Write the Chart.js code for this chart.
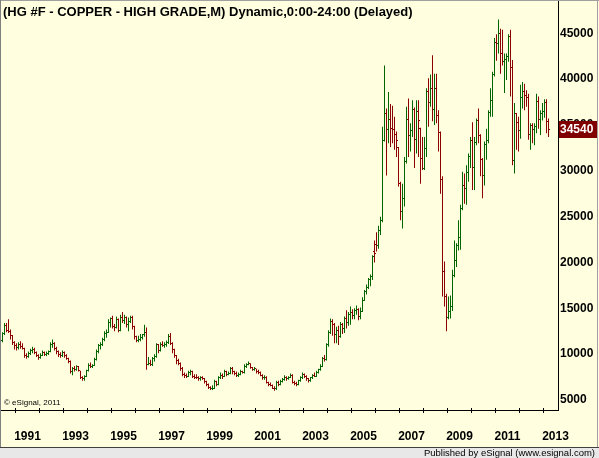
<!DOCTYPE html>
<html>
<head>
<meta charset="utf-8">
<script src="https://cdn.jsdelivr.net/npm/chart.js@4.4.1/dist/chart.umd.min.js"></script>
<style>
  html, body { margin: 0; padding: 0; background: #ffffe0; }
  canvas { display: block; }
</style>
</head>
<body>
<canvas id="chart" width="599" height="458"></canvas>
<script>
// monthly bars, the first one is June 1990 (month 5, 0-based)
const firstYear = 1990;
const firstMonth = 5;

const opens = [
  11500,12200,13100,12600,12500,12000,11300,
  10900,10700,11000,10800,10600,9800,9700,10100,10400,10500,10200,9900,
  9600,9900,10200,10000,10100,10300,11000,11200,10600,10300,10000,9800,
  10200,9800,9500,9200,8100,8400,8300,8600,8200,7400,7300,7600,
  8200,8800,8700,8800,9400,10300,10900,11100,11600,12300,12400,13500,
  13900,13000,12900,13800,12600,14000,13700,14000,13200,13600,14000,13000,
  11900,11500,11600,11800,12100,12400,8900,9000,8900,9500,9700,11000,
  10400,11000,10900,11100,11300,11900,11200,10500,9800,9300,9000,8400,
  7800,7700,7600,8000,8100,7600,7500,7400,7300,7500,7300,7000,
  6700,6400,6200,6300,7000,6700,7500,7700,7600,8100,7800,7900,
  8400,8100,7900,7700,7800,8100,8000,8700,8900,9000,8500,8300,
  8400,8100,8000,7700,7400,7500,6900,6700,6600,6300,6200,6900,
  6700,7000,7200,7500,7300,7500,7700,6900,6800,6700,7100,7400,
  7800,7600,7300,7100,7400,7700,7600,8000,8300,8700,9500,9400,
  11000,12400,13600,13200,12100,12600,11900,13200,12800,13900,13400,14300,
  14500,14200,14800,14900,14100,14700,15900,16800,17300,18100,18500,21200,
  22000,21800,23500,24600,33300,36200,34500,35600,34600,34500,34000,32500,
  28600,25600,27000,31000,35600,33800,34400,36700,33400,36500,34600,31300,
  30300,32400,38600,37500,39000,36700,39000,36000,34200,29000,19000,16300,
  14000,14600,15200,18600,20200,21900,22700,25900,28400,28100,29800,31600,
  33300,30400,33100,35500,33800,31200,29500,32900,33300,36400,37700,40500,
  44000,43900,45000,42800,41900,42100,42500,44700,41300,31100,36300,35300,
  34400,38000,38700,38200,38000,34000,34900,34500,34800,37600,35600,36300,
  36500,37400,35400
];
const highs = [
  12400,13400,13400,13800,12700,12100,11400,
  11200,11300,11400,11200,10700,10100,10300,10600,10800,10700,10300,10000,
  10100,10400,10300,10300,10400,11300,11600,11300,10800,10400,10200,10400,
  10300,10000,9600,9300,8600,8700,8800,8700,8200,7600,7700,8300,
  9000,9100,8900,9600,10500,11100,11300,11800,12500,12700,13800,14000,
  14200,13300,14100,13900,14300,14600,14300,14100,14000,14200,14200,13100,
  12000,12000,12200,12200,13200,12900,9700,9400,9700,10000,11200,11100,
  11300,11400,11300,11500,12200,12300,11300,10600,9900,9500,9100,8600,
  8000,7900,8200,8300,8200,7800,7800,7600,7600,7600,7400,7100,
  6800,6500,6600,7200,7100,7600,8000,7900,8300,8200,8100,8600,
  8600,8200,8100,8000,8300,8200,8900,9000,9200,9000,8600,8600,
  8400,8300,8100,7800,7700,7600,7000,6900,6700,6500,7100,7100,
  7200,7400,7700,7600,7600,7900,7800,7100,7000,7200,7600,8000,
  7900,7700,7400,7500,7800,8000,8200,8400,8900,9700,9900,11200,
  12600,13900,13800,13400,13000,13100,13500,13400,14100,14800,14600,15200,
  14900,15000,15300,15000,15100,16200,17000,17600,18300,18700,20800,22400,
  23300,24000,25000,34800,41500,36800,38600,37300,37100,35900,34300,32600,
  28800,28600,31500,37000,37900,35200,37700,36900,37700,37700,34700,33700,
  33700,39000,40100,40500,42600,40600,40600,36600,34300,29400,20100,16600,
  16300,16400,19200,22400,22100,24600,26300,29900,29700,30600,31900,33700,
  35300,33700,35700,36800,34000,31400,33200,34600,36600,39000,40800,44500,
  44900,46500,45500,45400,42800,42800,44900,45400,42100,37400,36300,35900,
  39400,39700,39500,38800,38400,35200,35200,35200,38400,38100,36600,37400,
  37800,37800,35700
];
const lows = [
  11300,12100,12400,12300,11600,11000,10500,
  10400,10500,10600,10500,9600,9500,9600,9900,10100,10000,9700,9400,
  9500,9800,9800,9800,9900,10200,10700,10400,10000,9700,9600,9700,
  9600,9400,9000,7900,7700,8100,8200,8100,7300,7100,7100,7500,
  8100,8500,8500,8700,9300,10100,10500,10900,11400,11800,12300,12900,
  12800,12500,12800,12400,12500,13400,13300,12900,12500,13400,12700,11600,
  11300,11300,11400,11600,11900,8300,8800,8700,8700,9200,9600,10100,
  10300,10800,10700,10800,11100,11000,10100,9600,8900,8800,8200,7600,
  7400,7400,7500,7700,7400,7300,7300,7100,7100,7200,6800,6500,
  6200,6100,6100,6200,6500,6600,7300,7300,7500,7600,7700,7800,
  7800,7700,7500,7500,7700,7900,7900,8500,8800,8400,8200,8200,
  7900,7800,7600,7200,7200,6800,6500,6500,6200,6000,6100,6500,
  6600,6900,7100,7100,7200,7400,6800,6600,6500,6600,7000,7300,
  7400,7100,6900,7000,7300,7500,7500,7900,8200,8600,9200,9300,
  10800,12200,12000,11200,11200,11000,11800,12200,12300,12800,13100,13200,
  13800,13800,14300,13700,13800,14600,15800,16500,17100,17400,18100,20000,
  21200,21500,23000,24400,33200,29500,33000,32600,33000,32300,31500,28300,
  24600,23700,26100,30800,31500,32100,33700,30300,31900,31500,28600,30100,
  30100,31500,34800,37000,35400,35000,35200,32100,27500,16300,15200,12500,
  13800,13900,14700,18400,19500,21300,21400,25700,26400,26300,28800,30300,
  27900,27900,32800,33000,29400,27000,28400,31200,33000,35900,35900,40300,
  42000,42800,40600,41500,38500,39900,41900,38100,30600,29700,32300,32100,
  33500,36800,36600,37000,33400,32300,33000,32800,34100,34600,33900,35500,
  35800,34100,33700
];
const closes = [
  12200,13100,12600,12500,12000,11300,10900,
  10700,11000,10800,10600,9800,9700,10100,10400,10500,10200,9900,9600,
  9900,10200,10000,10100,10300,11000,11200,10600,10300,10000,9800,10200,
  9800,9500,9200,8100,8400,8300,8600,8200,7400,7300,7600,8200,
  8800,8700,8800,9400,10300,10900,11100,11600,12300,12400,13500,13900,
  13000,12900,13800,12600,14000,13700,14000,13200,13600,14000,13000,11900,
  11500,11600,11800,12100,12400,8900,9000,8900,9500,9700,11000,10400,
  11000,10900,11100,11300,11900,11200,10500,9800,9300,9000,8400,7800,
  7700,7600,8000,8100,7600,7500,7400,7300,7500,7300,7000,6700,
  6400,6200,6300,7000,6700,7500,7700,7600,8100,7800,7900,8400,
  8100,7900,7700,7800,8100,8000,8700,8900,9000,8500,8300,8400,
  8100,8000,7700,7400,7500,6900,6700,6600,6300,6200,6900,6700,
  7000,7200,7500,7300,7500,7700,6900,6800,6700,7100,7400,7800,
  7600,7300,7100,7400,7700,7600,8000,8300,8700,9500,9400,11000,
  12400,13600,13200,12100,12600,11900,13200,12800,13900,13400,14300,14500,
  14200,14800,14900,14100,14700,15900,16800,17300,18100,18500,20600,21000,
  21800,23500,24600,33300,36200,34500,35600,34600,34500,34000,33300,28600,
  25600,27000,31000,35600,33800,34400,36700,33400,36500,35500,31300,30300,
  32400,38600,37500,39000,36700,39000,36000,34200,29000,19000,16300,14000,
  14600,15200,18600,20200,21900,22700,25900,28400,28100,29800,31600,33300,
  30400,33100,35500,33800,31200,29500,32900,33300,36400,37700,40500,44000,
  43900,45000,42800,41900,42100,42500,44700,41300,31100,36300,35300,34400,
  38000,38700,38200,38000,34000,34900,34500,34800,37600,35600,36300,36500,
  37400,35400,34540
];

const yearLabels = ['1991','1993','1995','1997','1999','2001','2003','2005','2007','2009','2011','2013'];
const priceTicks = [5000,10000,15000,20000,25000,30000,35000,40000,45000];
const lastPrice = 34540;
const titleText = '(HG #F - COPPER - HIGH GRADE,M) Dynamic,0:00-24:00 (Delayed)';

const UP = '#006400';
const DOWN = '#8b0000';
const FONT = "'Liberation Sans', Arial, sans-serif";

// x values are months counted from January 1991
const monthIdx = opens.map((_, i) => i + (firstYear - 1991) * 12 + firstMonth);
const barColors = closes.map((c, i) => c >= opens[i] ? UP : DOWN);

const ohlcPlugin = {
  id: 'ohlcExtras',
  beforeDraw(chart) {
    const ctx = chart.ctx;
    ctx.save();
    ctx.fillStyle = '#ffffe0';
    ctx.fillRect(0, 0, chart.width, chart.height);
    ctx.restore();
  },
  afterDatasetsDraw(chart) {
    // open tick on the left, close tick on the right
    const ctx = chart.ctx;
    const xs = chart.scales.x, ys = chart.scales.y;
    ctx.save();
    monthIdx.forEach((m, i) => {
      const x = Math.round(xs.getPixelForValue(m) - 0.5);
      ctx.fillStyle = barColors[i];
      const yo = Math.round(ys.getPixelForValue(opens[i]) - 0.5);
      const yc = Math.round(ys.getPixelForValue(closes[i]) - 0.5);
      ctx.fillRect(x - 1, yo, 1, 1);
      ctx.fillRect(x + 1, yc, 1, 1);
    });
    ctx.restore();
  },
  afterDraw(chart) {
    const ctx = chart.ctx;
    const xs = chart.scales.x, ys = chart.scales.y;
    const area = chart.chartArea;
    ctx.save();

    // year marks on the time axis
    ctx.fillStyle = '#000';
    for (let y = 1991; y <= 2013; y++) {
      const px = xs.getPixelForValue((y - 1991) * 12 - 0.5);
      ctx.fillRect(Math.round(px - 0.5), area.bottom - 2, 1, 5);
    }
    ctx.fillRect(0, area.bottom, area.left, 1);
    ctx.fillRect(area.right, 0, 1, area.top);

    // title
    ctx.fillStyle = '#000';
    ctx.font = 'bold 13px ' + FONT;
    ctx.textAlign = 'left';
    ctx.textBaseline = 'alphabetic';
    ctx.fillText(titleText, 3, 16);

    // copyright
    ctx.font = '8px ' + FONT;
    ctx.textBaseline = 'middle';
    ctx.fillText('\u00a9 eSignal, 2011', 4, 403);

    // last price box
    const yl = ys.getPixelForValue(lastPrice);
    ctx.fillStyle = '#800000';
    ctx.fillRect(area.right + 1, Math.round(yl) - 8, 38, 17);
    ctx.fillStyle = '#fff';
    ctx.font = 'bold 12px ' + FONT;
    ctx.fillText(String(lastPrice), area.right + 2, Math.round(yl) + 0.5);

    // frame
    ctx.fillStyle = '#a0a0a0';
    ctx.fillRect(0, 0, chart.width, 1);
    ctx.fillRect(597, 0, 1, 447);
    ctx.fillStyle = '#808080';
    ctx.fillRect(0, 0, 1, 447);

    // footer strip
    ctx.fillStyle = '#e8e8e8';
    ctx.fillRect(0, 448, chart.width, 10);
    ctx.fillStyle = '#404040';
    ctx.fillRect(0, 447, chart.width, 1);
    ctx.fillStyle = '#000';
    ctx.font = '9.5px ' + FONT;
    ctx.textAlign = 'right';
    ctx.fillText('Published by eSignal (www.esignal.com)', 595, 453);
    ctx.restore();
  }
};

new Chart(document.getElementById('chart'), {
  type: 'bar',
  data: {
    datasets: [{
      data: monthIdx.map((m, i) => ({ x: m, y: [lows[i], highs[i]] })),
      backgroundColor: barColors,
      borderWidth: 0,
      borderSkipped: false,
      inflateAmount: 0,
      barThickness: 1
    }]
  },
  options: {
    responsive: false,
    devicePixelRatio: 1,
    animation: false,
    layout: { autoPadding: false, padding: { left: 2, top: 1, right: 0, bottom: 11 } },
    plugins: {
      legend: { display: false },
      tooltip: { enabled: false },
      title: { display: false }
    },
    scales: {
      x: {
        type: 'linear',
        position: 'bottom',
        min: -7.25,
        max: 270.75,
        offset: false,
        grid: { display: false, drawTicks: false },
        border: { display: true, color: '#000', width: 1 },
        afterBuildTicks: s => { s.ticks = yearLabels.map(y => ({ value: (Number(y) - 1991) * 12 + 5.5 })); },
        afterFit: s => {
          s.height = 37;
          s.paddingLeft = 0;
          s.paddingRight = 0;
        },
        ticks: {
          autoSkip: false,
          maxRotation: 0,
          padding: 0,
          color: '#000',
          font: { family: FONT, size: 12, weight: 'bold', lineHeight: 4.5 },
          callback: (v, i) => yearLabels[i]
        }
      },
      y: {
        type: 'linear',
        position: 'right',
        min: 3909,
        max: 48523,
        grid: { display: false, drawTicks: false },
        border: { display: true, color: '#000', width: 1 },
        afterBuildTicks: s => { s.ticks = priceTicks.map(v => ({ value: v })); },
        afterFit: s => {
          s.width = 41;
          s.paddingTop = 0;
          s.paddingBottom = 0;
        },
        ticks: {
          padding: 2,
          color: '#000',
          font: { family: FONT, size: 12, weight: 'bold' },
          callback: v => String(v)
        }
      }
    }
  },
  plugins: [ohlcPlugin]
});
</script>
</body>
</html>
